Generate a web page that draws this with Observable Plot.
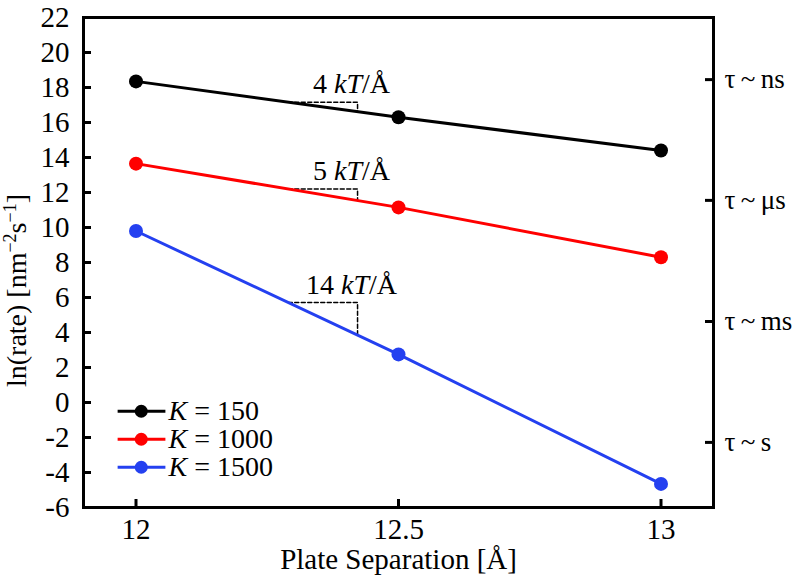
<!DOCTYPE html>
<html><head><meta charset="utf-8">
<script src="https://cdn.jsdelivr.net/npm/d3@7"></script>
<script src="https://cdn.jsdelivr.net/npm/@observablehq/plot@0.6"></script>
<style>
html,body{margin:0;padding:0;background:#fff;}
#chart{width:793px;height:582px;}
</style></head><body><div id="chart"></div>
<script>
// ---- data ----
const separation = [12, 12.5, 13];
const seriesK = ["150", "1000", "1500"];
const lnRateK150 = [18.35, 16.3, 14.4];
const lnRateK1000 = [13.65, 11.15, 8.3];
const lnRateK1500 = [9.8, 2.75, -4.65];
const seriesColors = ["#000000", "#ff0000", "#2440f0"];
const slopeLabels = ["4 kT/Å", "5 kT/Å", "14 kT/Å"];
const yTicks = [-6, -4, -2, 0, 2, 4, 6, 8, 10, 12, 14, 16, 18, 20, 22];
const xTicks = [12, 12.5, 13];
const tauValues = [18.45, 11.55, 4.63, -2.28];
const tauLabels = ["τ\u2009~\u2009ns", "τ\u2009~\u2009μs", "τ\u2009~\u2009ms", "τ\u2009~\u2009s"];

// ---- layout ----
const W = 793, H = 582;
const mL = 83, mR = 80, mT = 17, mB = 75;
const innerW = W - mL - mR, innerH = H - mT - mB;
const annX0 = 12.29, annX1 = 12.422;           // slope-triangle span
const legendY = [-0.5, -2.1, -3.7];            // legend rows
const legendX = {x1: 11.965, x2: 12.056, dot: 12.01, text: 12.062};

const allSeries = [lnRateK150, lnRateK1000, lnRateK1500];
const rows = seriesK.flatMap((k, i) => separation.map((s, j) => ({k, x: s, y: allSeries[i][j], color: seriesColors[i]})));
function interp(vals, x) {
  const t = (x - separation[0]) / (separation[1] - separation[0]);
  return vals[0] + (vals[1] - vals[0]) * t;
}
const annPath = [], annText = [];
allSeries.forEach((v, i) => {
  const ya = interp(v, annX0), yb = interp(v, annX1);
  annPath.push({k: i, x: annX0, y: ya}, {k: i, x: annX1, y: ya}, {k: i, x: annX1, y: yb});
  annText.push({x: annX1, y: ya, text: slopeLabels[i]});
});
const legendRows = seriesK.map((k, i) => ({k, y: legendY[i], color: seriesColors[i], text: `K = ${k}`}));

const FS = 29;
const plot = Plot.plot({
  width: W, height: H,
  marginLeft: mL, marginRight: mR, marginTop: mT, marginBottom: mB,
  style: {fontFamily: "'Liberation Serif', 'Times New Roman', serif", color: "#000", background: "#fff", overflow: "visible"},
  x: {domain: [11.9, 13.1], axis: null},
  y: {domain: [-6, 22], axis: null},
  marks: [
    Plot.frame({stroke: "#000", strokeWidth: 3}),
    Plot.tickY(yTicks, {y: d => d, insetRight: innerW - 8, stroke: "#000", strokeWidth: 3}),
    Plot.tickY(tauValues, {y: d => d, insetLeft: innerW - 8, stroke: "#000", strokeWidth: 3}),
    Plot.tickX(xTicks, {x: d => d, insetTop: innerH - 8, stroke: "#000", strokeWidth: 3}),
    Plot.axisY(yTicks, {anchor: "left", tickSize: 0, tickPadding: 14, tickFormat: d => String(d), fontSize: FS, label: null}),
    Plot.axisY(tauValues, {anchor: "right", tickSize: 0, tickPadding: 11, tickFormat: d => tauLabels[tauValues.indexOf(d)], fontSize: 27, label: null}),
    Plot.axisX(xTicks, {anchor: "bottom", tickSize: 0, tickPadding: 11, tickFormat: d => String(d), fontSize: FS, label: null}),
    Plot.text(["Plate Separation [Å]"], {frameAnchor: "bottom", lineAnchor: "top", dy: 41, fontSize: FS}),
    Plot.text(["ln(rate) [nm^s]"], {frameAnchor: "left", rotate: -90, dx: -66, dy: 28, fontSize: 28, textAnchor: "middle", lineAnchor: "middle"}),
    Plot.line(annPath, {x: "x", y: "y", z: "k", stroke: "#000", strokeWidth: 1.5, strokeDasharray: "4,2.5"}),
    Plot.text(annText, {x: "x", y: "y", text: "text", dy: -9, dx: -6, lineAnchor: "bottom", textAnchor: "middle", fontSize: 28}),
    Plot.line(rows, {x: "x", y: "y", z: "k", stroke: "color", strokeWidth: 3}),
    Plot.dot(rows, {x: "x", y: "y", fill: "color", r: 7}),
    Plot.link(legendRows, {x1: legendX.x1, x2: legendX.x2, y1: "y", y2: "y", stroke: "color", strokeWidth: 3}),
    Plot.dot(legendRows, {x: legendX.dot, y: "y", fill: "color", r: 6.5}),
    Plot.text(legendRows, {x: legendX.text, y: "y", text: "text", textAnchor: "start", lineAnchor: "middle", fontSize: 28})
  ]
});
document.getElementById("chart").appendChild(plot);

// rich text: italics and superscripts
plot.querySelectorAll("text").forEach(t => {
  const s = t.textContent;
  if (s === "ln(rate) [nm^s]") {
    t.innerHTML = 'ln(rate) [nm<tspan dy="-10" font-size="18">−2</tspan><tspan dy="10">s</tspan><tspan dy="-10" font-size="18">−1</tspan><tspan dy="10">]</tspan>';
  } else if (/^K = /.test(s)) {
    t.innerHTML = '<tspan font-style="italic">K</tspan>' + s.slice(1);
  } else if (/kT\/Å$/.test(s)) {
    t.innerHTML = s.replace("kT", '<tspan font-style="italic">kT</tspan>');
  }
});
</script></body></html>
